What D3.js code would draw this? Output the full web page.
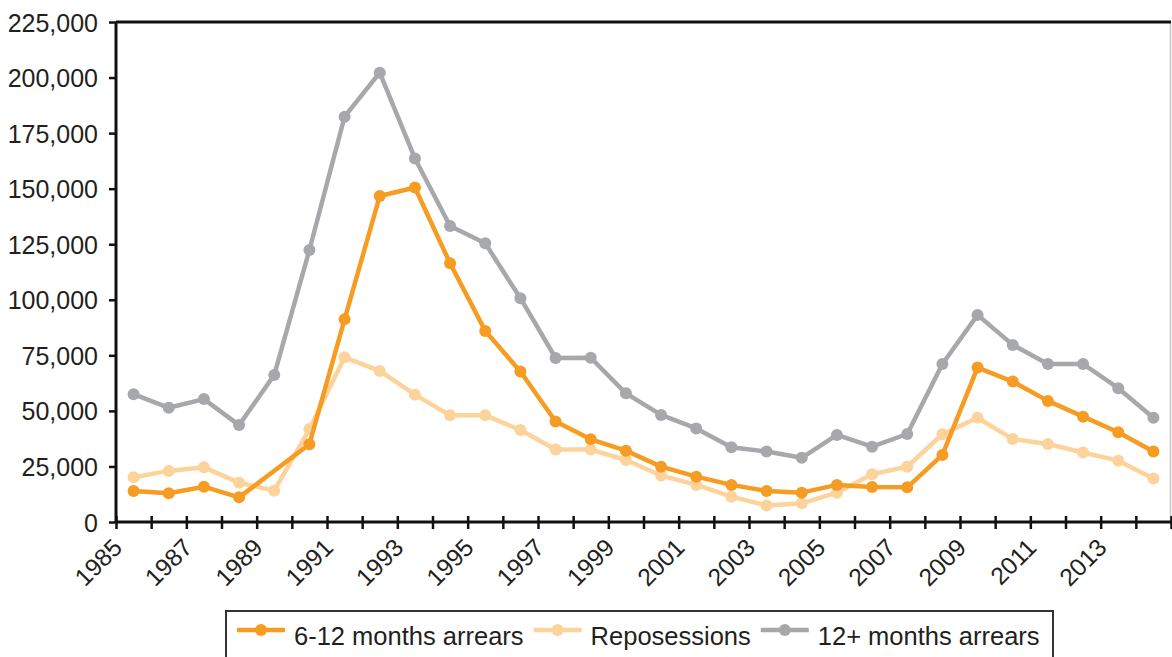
<!DOCTYPE html>
<html><head><meta charset="utf-8">
<script src="https://cdn.jsdelivr.net/npm/d3@7"></script>
<style>
html,body{margin:0;padding:0;background:#fff;}
svg{display:block;font-family:"Liberation Sans",Arial,Helvetica,sans-serif;}
</style></head>
<body><svg id="c" width="1172" height="657"></svg>
<script>
const years = d3.range(1985, 2015);
const xLabelYears = years.filter((d,i) => i % 2 === 0);
const yTicks = [0, 25000, 50000, 75000, 100000, 125000, 150000, 175000, 200000, 225000];
const seriesNames = ["6-12 months arrears", "Reposessions", "12+ months arrears"];
const arrears6to12 = [14000, 12900, 15900, 11100, null, 35000, 91200, 146700, 150500, 116400, 86000, 67700, 45200, 37200, 32100, 24900, 20400, 16700, 14000, 13200, 16700, 15800, 15600, 30200, 69500, 63200, 54500, 47400, 40400, 31700];
const repossessions = [20100, 23000, 24600, 17700, 14100, 41800, 74100, 68000, 57300, 48000, 48000, 41400, 32600, 32600, 27900, 20900, 16700, 11400, 7400, 8400, 13200, 21500, 24900, 39500, 46900, 37300, 35100, 31300, 27600, 19600];
const arrears12plus = [57500, 51400, 55300, 43600, 66200, 122400, 182400, 202200, 163600, 133200, 125400, 100700, 73800, 73900, 57900, 48200, 42100, 33600, 31700, 28900, 39200, 33900, 39600, 71100, 93200, 79700, 71100, 71100, 60200, 46900];
const colors = ["#F69C22", "#FDD39C", "#A7A8AB"];

const svg = d3.select("#c");
const L = 116, R = 1171, T = 22, B = 522;
const x = d3.scaleBand().domain(years).range([L, R]).padding(0);
const xb = d3.scaleLinear().domain([0, years.length]).range([L, R]);
const y = d3.scaleLinear().domain([0, 225000]).range([B, T]);
const cx = d => x(d) + x.bandwidth() / 2;
const textCol = "#231F20";

// right border (thin)
svg.append("line").attr("x1", R - 0.5).attr("x2", R - 0.5).attr("y1", T).attr("y2", B)
  .attr("stroke", "#C8C8C8").attr("stroke-width", 1.5);
// top border (thick)
svg.append("line").attr("x1", L).attr("x2", R).attr("y1", T).attr("y2", T)
  .attr("stroke", "#111").attr("stroke-width", 3);

// y axis
const yAxis = svg.append("g").attr("transform", `translate(${L},0)`)
  .call(d3.axisLeft(y).tickValues(yTicks).tickSize(7).tickPadding(11).tickFormat(d3.format(",")));
yAxis.select(".domain").attr("stroke", "#111").attr("stroke-width", 3).attr("d", `M0,${T}V${B}`);
yAxis.selectAll(".tick line").attr("stroke", "#111").attr("stroke-width", 2.5);
yAxis.selectAll(".tick text").attr("fill", textCol).style("font-size", "25px")
  .attr("dy", "0.36em");

// x axis
const xAxis = svg.append("g").attr("transform", `translate(0,${B})`)
  .call(d3.axisBottom(xb).tickValues(d3.range(0, years.length + 1)).tickSize(7).tickFormat(""));
xAxis.select(".domain").attr("stroke", "#111").attr("stroke-width", 3).attr("d", `M${L},0H${R}`);
xAxis.selectAll(".tick line").attr("stroke", "#111").attr("stroke-width", 2.5).attr("y1", -6).attr("y2", 7);

svg.append("g").selectAll("text").data(xLabelYears).join("text")
  .attr("transform", d => `translate(${cx(d) - 10},${B + 27}) rotate(-45)`)
  .attr("text-anchor", "end").attr("fill", textCol).style("font-size", "24.5px")
  .text(d => d);

// series
const allSeries = [arrears6to12, repossessions, arrears12plus];
const drawOrder = [1, 2, 0];
const line = d3.line().x(d => cx(d.year)).y(d => y(d.v));
drawOrder.forEach(si => {
  const pts = years.map((yr, i) => ({year: yr, v: allSeries[si][i]})).filter(p => p.v !== null);
  const g = svg.append("g");
  g.append("path").datum(pts).attr("d", line).attr("fill", "none")
    .attr("stroke", colors[si]).attr("stroke-width", 4.5).attr("stroke-linejoin", "round");
  g.selectAll("circle").data(pts).join("circle")
    .attr("cx", d => cx(d.year)).attr("cy", d => y(d.v)).attr("r", 6).attr("fill", colors[si]);
});

// legend
const lg = svg.append("g");
lg.append("rect").attr("x", 226).attr("y", 611).attr("width", 827).attr("height", 60)
  .attr("fill", "#fff").attr("stroke", "#333").attr("stroke-width", 2);
let lx = 237;
seriesNames.forEach((name, i) => {
  lg.append("line").attr("x1", lx).attr("x2", lx + 48).attr("y1", 630).attr("y2", 630)
    .attr("stroke", colors[i]).attr("stroke-width", 4.5);
  lg.append("circle").attr("cx", lx + 24).attr("cy", 630).attr("r", 6).attr("fill", colors[i]);
  const t = lg.append("text").attr("x", lx + 57).attr("y", 645).attr("fill", textCol)
    .style("font-size", "25.5px").text(name);
  lx = lx + 57 + t.node().getComputedTextLength() + 10;
});
</script></body></html>
